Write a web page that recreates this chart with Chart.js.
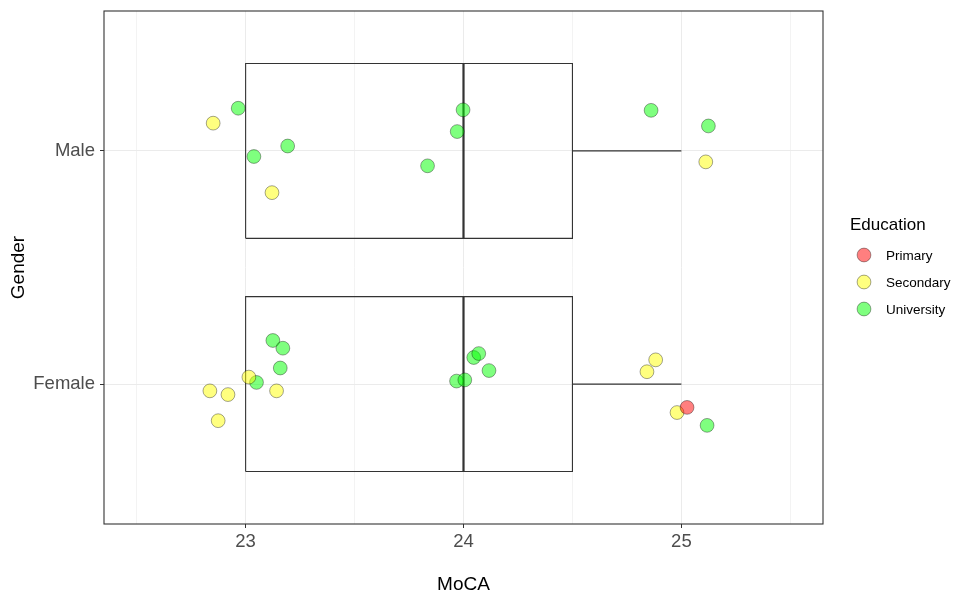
<!DOCTYPE html>
<html>
<head>
<meta charset="utf-8">
<script src="https://cdn.jsdelivr.net/npm/chart.js@4.4.1/dist/chart.umd.min.js"></script>
<style>
  html, body { margin: 0; padding: 0; background: #ffffff; }
  #wrap { width: 955px; height: 597px; position: relative; }
</style>
</head>
<body>
<div id="wrap"><canvas id="c"></canvas></div>
<script>
// ---- data ----
const genders = ['Female', 'Male'];          // positions 1, 2
const educationLevels = ['Primary', 'Secondary', 'University'];
const xTicks = [22.5, 23, 23.5, 24, 24.5, 25, 25.5];

// jittered points (MoCA, gender position)
const primaryX = [25.026];
const primaryY = [0.900];

const secondaryX = [22.851, 23.121, 25.112,
                    23.015, 22.836, 22.919, 23.142, 22.874, 24.882, 24.842, 24.980];
const secondaryY = [2.119, 1.821, 1.953,
                    1.030, 0.971, 0.955, 0.971, 0.843, 1.104, 1.053, 0.878];

const universityX = [22.966, 23.038, 23.193, 23.835, 23.971, 23.998, 24.861, 25.124,
                     23.125, 23.171, 23.159, 23.050, 24.047, 24.070, 24.117, 23.968, 24.006, 25.118];
const universityY = [2.183, 1.976, 2.021, 1.936, 2.083, 2.176, 2.174, 2.107,
                     1.187, 1.154, 1.069, 1.007, 1.114, 1.131, 1.058, 1.013, 1.018, 0.823];

// boxplot statistics per gender (Female, Male)
const boxLowWhisker = [23, 23];
const boxQ1 = [23, 23];
const boxMedian = [24, 24];
const boxQ3 = [24.5, 24.5];
const boxHighWhisker = [25, 25];
const boxHalfWidth = 0.375;

const eduColors = ['rgba(255,0,0,0.5)', 'rgba(255,255,0,0.5)', 'rgba(0,255,0,0.5)'];
const pointBorder = 'rgba(0,0,0,0.45)';

function zip(xs, ys) { return xs.map((x, i) => ({ x: x, y: ys[i] })); }

const datasets = [];
[[primaryX, primaryY], [secondaryX, secondaryY], [universityX, universityY]].forEach((s, i) => {
  datasets.push({
    type: 'scatter',
    label: educationLevels[i],
    data: zip(s[0], s[1]),
    backgroundColor: eduColors[i],
    borderColor: pointBorder,
    borderWidth: 0.8,
    pointRadius: 6.9,
    pointHoverRadius: 6.9
  });
});

genders.forEach((g, i) => {
  const c = i + 1;
  const lineBase = { type: 'line', showLine: true, pointRadius: 0, pointHoverRadius: 0, fill: false,
                     borderColor: '#333333', tension: 0 };
  datasets.push(Object.assign({}, lineBase, {
    label: g + ' box', borderWidth: 1.1,
    data: [{x: boxQ1[i], y: c - boxHalfWidth}, {x: boxQ3[i], y: c - boxHalfWidth},
           {x: boxQ3[i], y: c + boxHalfWidth}, {x: boxQ1[i], y: c + boxHalfWidth},
           {x: boxQ1[i], y: c - boxHalfWidth}]
  }));
  datasets.push(Object.assign({}, lineBase, {
    label: g + ' median', borderWidth: 2.2,
    data: [{x: boxMedian[i], y: c - boxHalfWidth}, {x: boxMedian[i], y: c + boxHalfWidth}]
  }));
  datasets.push(Object.assign({}, lineBase, {
    label: g + ' upper whisker', borderWidth: 1.1,
    data: [{x: boxQ3[i], y: c}, {x: boxHighWhisker[i], y: c}]
  }));
  datasets.push(Object.assign({}, lineBase, {
    label: g + ' lower whisker', borderWidth: 1.1,
    data: [{x: boxLowWhisker[i], y: c}, {x: boxQ1[i], y: c}]
  }));
});

const panelPlugin = {
  id: 'panel',
  afterDraw(chart) {
    const a = chart.chartArea, ctx = chart.ctx;
    ctx.save();
    ctx.strokeStyle = '#333333';
    ctx.lineWidth = 1.1;
    ctx.strokeRect(a.left, a.top, a.right - a.left, a.bottom - a.top);
    // legend
    ctx.fillStyle = '#000000';
    ctx.textBaseline = 'middle';
    ctx.textAlign = 'left';
    ctx.font = '17px "Liberation Sans", Arial, sans-serif';
    ctx.fillText('Education', 850, 225);
    ctx.font = '13.5px "Liberation Sans", Arial, sans-serif';
    const ys = [255, 282, 309];
    educationLevels.forEach((lab, i) => {
      ctx.beginPath();
      ctx.arc(864, ys[i], 6.9, 0, Math.PI * 2);
      ctx.fillStyle = eduColors[i];
      ctx.fill();
      ctx.lineWidth = 0.8;
      ctx.strokeStyle = pointBorder;
      ctx.stroke();
      ctx.fillStyle = '#000000';
      ctx.fillText(lab, 886, ys[i] + 1);
    });
    ctx.restore();
  }
};

const tickFont = { family: '"Liberation Sans", Arial, sans-serif', size: 18.5 };
const titleFont = { family: '"Liberation Sans", Arial, sans-serif', size: 19 };

new Chart(document.getElementById('c'), {
  type: 'scatter',
  data: { datasets: datasets },
  options: {
    responsive: true,
    maintainAspectRatio: false,
    animation: false,
    layout: { padding: { top: 11, right: 132, bottom: 0, left: 0 } },
    plugins: { legend: { display: false }, tooltip: { enabled: false } },
    scales: {
      x: {
        type: 'linear',
        min: 22.35, max: 25.65,
        afterBuildTicks(scale) { scale.ticks = xTicks.map(v => ({ value: v })); },
        afterFit(scale) { scale.height = 73; scale.paddingLeft = 0; scale.paddingRight = 0; },
        ticks: {
          font: tickFont, color: '#4D4D4D', padding: 3, maxRotation: 0, autoSkip: false,
          callback: (v) => (Number.isInteger(v) ? String(v) : '')
        },
        grid: {
          color: '#EBEBEB',
          lineWidth: (ctx) => (ctx.tick && Number.isInteger(ctx.tick.value) ? 1 : 0.6),
          tickColor: (ctx) => (ctx.tick && Number.isInteger(ctx.tick.value) ? '#333333' : 'rgba(0,0,0,0)'),
          tickLength: 4,
          tickWidth: 1
        },
        border: { display: false },
        title: { display: true, text: 'MoCA', font: Object.assign({ lineHeight: 1 }, titleFont), color: '#000000',
                 padding: { top: 0, bottom: 3 } }
      },
      y: {
        type: 'linear',
        min: 0.4, max: 2.6,
        afterBuildTicks(scale) { scale.ticks = genders.map((g, i) => ({ value: i + 1 })); },
        afterFit(scale) { scale.width = 104; scale.paddingTop = 0; scale.paddingBottom = 0; },
        ticks: {
          font: tickFont, color: '#4D4D4D', padding: 5, autoSkip: false,
          callback: (v) => genders[v - 1] || ''
        },
        grid: { color: '#EBEBEB', lineWidth: 1, tickColor: '#333333', tickLength: 4, tickWidth: 1 },
        border: { display: false },
        title: { display: true, text: 'Gender', font: Object.assign({ lineHeight: 1.2 }, titleFont), color: '#000000',
                 padding: { top: 7, bottom: 0 } }
      }
    }
  },
  plugins: [panelPlugin]
});
</script>
</body>
</html>
